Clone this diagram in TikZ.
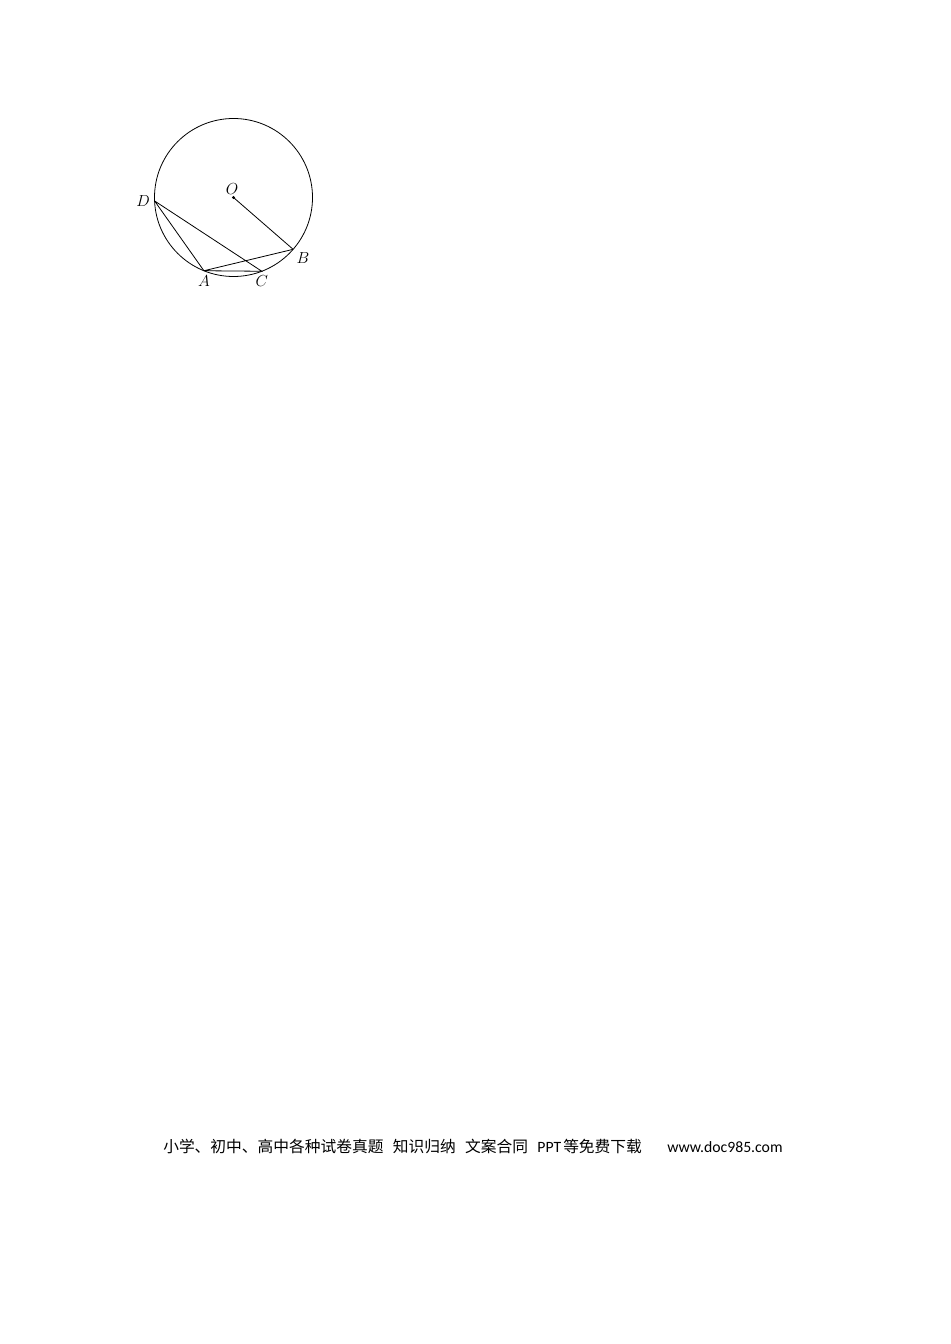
\documentclass[tikz,border=0pt]{standalone}
\usepackage{fontspec}
\newfontfamily\cjk{Noto Sans CJK SC}
\newfontfamily\latinsans{Carlito}
\usetikzlibrary{calc}
\tikzset{l/.style={font=\fontsize{11.5}{11.5}\selectfont}}
\tikzset{foot/.style={font=\fontsize{11.8}{11.8}\selectfont}}

\begin{document}
\begin{tikzpicture}[x=0.75pt,y=-0.75pt]
            \useasboundingbox (0,0) rectangle (950,1344);
            \coordinate (O) at (233.5,197.5);
            \draw[line width=0.6pt] (O) circle [radius=79];
            \coordinate (D) at ($(O)+(182.5:79*0.75pt)$);
            \coordinate (A) at ($(O)+(248:79*0.75pt)$);
            \coordinate (C) at ($(O)+(291:79*0.75pt)$);
            \coordinate (B) at ($(O)+(319:79*0.75pt)$);
            \fill (O) circle [radius=1.3pt];
            \draw[line width=0.6pt] (D)--(A)--(C)--(D) (A)--(B) (O)--(B);
            \node[l, above=-1pt, xshift=-1pt] at (O) {$O$};
            \node[l, left=0pt] at (D) {$D$};
            \node[l, below right=-1pt] at (B) {$B$};
            \node[l, below=0pt] at (A) {$A$};
            \node[l, below=0pt] at (C) {$C$};
            \node[foot, anchor=west, inner sep=0pt] (F) at (163,1146)
              {\cjk 小学、初中、高中各种试卷真题\hspace{7pt}知识归纳\hspace{7pt}文案合同\hspace{7pt}{\latinsans PPT}\hspace{1.5pt}等免费下载\hspace{19pt}{\latinsans www.doc985.com}};
          \end{tikzpicture}
\end{document}
